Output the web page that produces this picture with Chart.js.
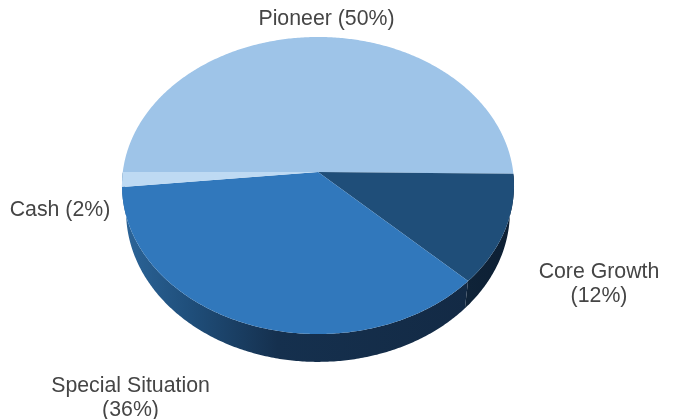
<!DOCTYPE html>
<html><head><meta charset="utf-8">
<style>html,body{margin:0;padding:0;background:#fff}canvas{display:block}</style>
<script src="https://cdn.jsdelivr.net/npm/chart.js@4"></script>
</head><body><canvas id="c" width="674" height="419"></canvas>
<script>
const categories = ["Pioneer","Core Growth","Special Situation","Cash"];
const shareValues = [50.2,12,36.2,1.6];
const sliceColors = ["#9EC4E8","#1F4E79","#3178BC","#BEDAF3"];
const labelLines = [["Pioneer (50%)"],["Core Growth","(12%)"],["Special Situation","(36%)"],["Cash (2%)"]];
const labelAnchors = [[326.5,19],[599,284],[130.5,398],[60,210]];

// perspective of the tilted disc: the library's arc angles are projected with these
const lens = {p:0.0909, topCy:172, topA:0.996, topB:147.3, lowCy:198, lowA:0.975, lowB:149};
const wallStops = [
  [[0,"#0F2338"],[1,"#0D1F33"]],
  [[0,"#2C6599"],[0.2,"#1F4E7A"],[0.45,"#15304E"],[1,"#132A45"]],
  [[0,"#2C6599"],[1,"#2C6599"]]
];
function project(a,t,low){
  const u=Math.cos(t), v=Math.sin(t), w=1-lens.p*v, R=a.outerRadius;
  return low
    ? [a.x+R*lens.lowA*u/w, lens.lowCy+lens.lowB*v/w]
    : [a.x+R*lens.topA*u/w, lens.topCy+lens.topB*v/w];
}
function samples(s,e){
  const n=Math.max(2,Math.ceil((e-s)/0.01)), out=[];
  for(let i=0;i<=n;i++) out.push(s+(e-s)*i/n);
  return out;
}
const pie3d = {
  id:"pie3d",
  beforeDatasetsDraw(chart){
    const arcs = chart.getDatasetMeta(0).data, ctx = chart.ctx, TAU=Math.PI*2;
    ctx.save();
    // side wall (front half only)
    arcs.forEach((a,i)=>{
      let s=a.startAngle, e=a.endAngle;
      while(s>=TAU){s-=TAU;e-=TAU;}
      s=Math.max(s,0); e=Math.min(e,Math.PI);
      if(e<=s) return;
      const ts=samples(s,e);
      ctx.beginPath();
      ts.forEach((t,j)=>{const q=project(a,t,false); j?ctx.lineTo(q[0],q[1]):ctx.moveTo(q[0],q[1]);});
      ts.slice().reverse().forEach(t=>{const q=project(a,t,true); ctx.lineTo(q[0],q[1]);});
      ctx.closePath();
      const stops=wallStops[i-1]||wallStops[0];
      const g=ctx.createLinearGradient(project(a,e,false)[0],0,project(a,s,false)[0],0);
      stops.forEach(p=>g.addColorStop(p[0],p[1]));
      ctx.fillStyle=g; ctx.fill();
    });
    // top face
    arcs.forEach((a,i)=>{
      ctx.beginPath();
      ctx.moveTo(a.x,lens.topCy);
      samples(a.startAngle,a.endAngle).forEach(t=>{const q=project(a,t,false); ctx.lineTo(q[0],q[1]);});
      ctx.closePath();
      ctx.fillStyle=a.options.backgroundColor; ctx.fill();
    });
    ctx.restore();
    return false;
  },
  afterDraw(chart){
    const ctx=chart.ctx;
    ctx.save();
    ctx.fillStyle="#454545";
    ctx.font='21.3px "Liberation Sans", Arial, sans-serif';
    ctx.textAlign="center"; ctx.textBaseline="middle";
    labelLines.forEach((ls,i)=>{
      const [x,y]=labelAnchors[i], step=23.8, top=y-(ls.length-1)*step/2;
      ls.forEach((t,j)=>ctx.fillText(t,x,top+j*step));
    });
    ctx.restore();
  }
};
new Chart(document.getElementById("c"),{
  type:"pie",
  data:{labels:categories,datasets:[{data:shareValues,backgroundColor:sliceColors,borderWidth:0}]},
  options:{
    responsive:false,animation:false,rotation:270,
    layout:{padding:{left:122,right:160,top:13,bottom:14}},
    plugins:{legend:{display:false},tooltip:{enabled:false},title:{display:false}}
  },
  plugins:[pie3d]
});
</script></body></html>
